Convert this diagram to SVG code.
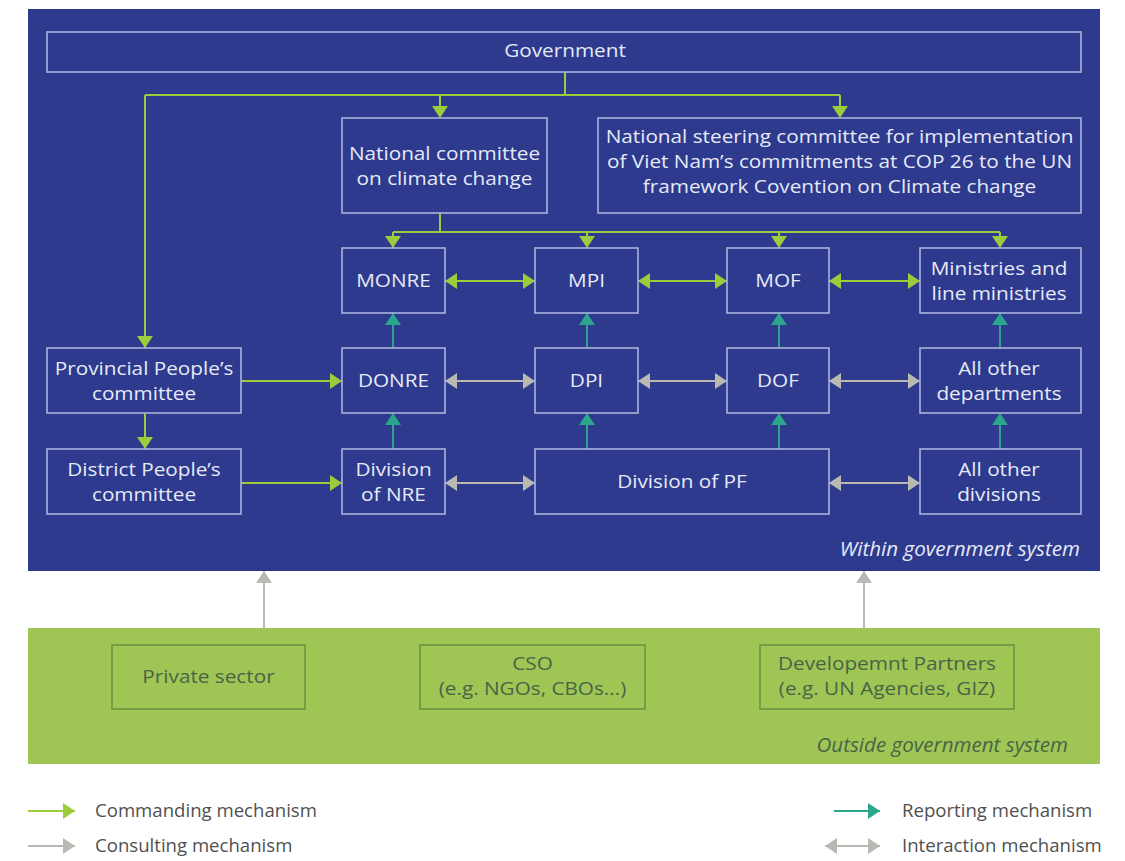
<svg xmlns="http://www.w3.org/2000/svg" width="1125" height="861" viewBox="0 0 1125 861">
<defs>
<style>
.box{fill:none;stroke:#aab3dc;stroke-width:1.6}
.gbox{fill:none;stroke:#6a9440;stroke-width:1.6}
.t{font-family:"Open Sans","Liberation Sans",sans-serif;font-size:18.2px;fill:#e6e9f7;text-anchor:middle}
.gt{font-family:"Open Sans","Liberation Sans",sans-serif;font-size:18.2px;fill:#4a6347;text-anchor:middle}
.lt{font-family:"Open Sans","Liberation Sans",sans-serif;font-size:18.6px;fill:#505050}
.it{font-family:"Open Sans","Liberation Sans",sans-serif;font-size:20.6px;font-style:italic;text-anchor:end}
.cmd{stroke:#9ccb3c;stroke-width:2;fill:none}
.rep{stroke:#2ba58c;stroke-width:2;fill:none}
.con{stroke:#b9b9b3;stroke-width:2;fill:none}
</style>
<marker id="aC" viewBox="0 0 12 16" refX="12" refY="8" markerWidth="12" markerHeight="16" markerUnits="userSpaceOnUse" orient="auto-start-reverse"><path d="M0,0 L12,8 L0,16 Z" fill="#9ccb3c"/></marker>
<marker id="aR" viewBox="0 0 12 16" refX="12" refY="8" markerWidth="12" markerHeight="16" markerUnits="userSpaceOnUse" orient="auto-start-reverse"><path d="M0,0 L12,8 L0,16 Z" fill="#2ba58c"/></marker>
<marker id="aG" viewBox="0 0 12 16" refX="12" refY="8" markerWidth="12" markerHeight="16" markerUnits="userSpaceOnUse" orient="auto-start-reverse"><path d="M0,0 L12,8 L0,16 Z" fill="#b9b9b3"/></marker>
</defs>
<rect width="1125" height="861" fill="#ffffff"/>
<rect x="28" y="9" width="1072" height="562" fill="#2d3a8d"/>
<rect x="28" y="628" width="1072" height="136" fill="#9fc655"/>

<g id="connectors">
<path class="cmd" d="M565,72 V95 M145,95 H840"/>
<line class="cmd" x1="440" y1="95" x2="440" y2="118" marker-end="url(#aC)"/>
<line class="cmd" x1="840" y1="95" x2="840" y2="118" marker-end="url(#aC)"/>
<line class="cmd" x1="145" y1="95" x2="145" y2="348" marker-end="url(#aC)"/>
<path class="cmd" d="M440,213 V232 M393,232 H1000"/>
<line class="cmd" x1="393" y1="232" x2="393" y2="248" marker-end="url(#aC)"/>
<line class="cmd" x1="587" y1="232" x2="587" y2="248" marker-end="url(#aC)"/>
<line class="cmd" x1="779" y1="232" x2="779" y2="248" marker-end="url(#aC)"/>
<line class="cmd" x1="1000" y1="232" x2="1000" y2="248" marker-end="url(#aC)"/>
<line class="cmd" x1="445" y1="281" x2="535" y2="281" marker-start="url(#aC)" marker-end="url(#aC)"/>
<line class="cmd" x1="638" y1="281" x2="727" y2="281" marker-start="url(#aC)" marker-end="url(#aC)"/>
<line class="cmd" x1="829" y1="281" x2="920" y2="281" marker-start="url(#aC)" marker-end="url(#aC)"/>
<line class="cmd" x1="241" y1="381" x2="342" y2="381" marker-end="url(#aC)"/>
<line class="cmd" x1="241" y1="483" x2="342" y2="483" marker-end="url(#aC)"/>
<line class="cmd" x1="145" y1="413" x2="145" y2="449" marker-end="url(#aC)"/>
<line class="rep" x1="393" y1="348" x2="393" y2="313" marker-end="url(#aR)"/>
<line class="rep" x1="587" y1="348" x2="587" y2="313" marker-end="url(#aR)"/>
<line class="rep" x1="779" y1="348" x2="779" y2="313" marker-end="url(#aR)"/>
<line class="rep" x1="1000" y1="348" x2="1000" y2="313" marker-end="url(#aR)"/>
<line class="rep" x1="393" y1="449" x2="393" y2="413" marker-end="url(#aR)"/>
<line class="rep" x1="587" y1="449" x2="587" y2="413" marker-end="url(#aR)"/>
<line class="rep" x1="779" y1="449" x2="779" y2="413" marker-end="url(#aR)"/>
<line class="rep" x1="1000" y1="449" x2="1000" y2="413" marker-end="url(#aR)"/>
<line class="con" x1="445" y1="381" x2="535" y2="381" marker-start="url(#aG)" marker-end="url(#aG)"/>
<line class="con" x1="638" y1="381" x2="727" y2="381" marker-start="url(#aG)" marker-end="url(#aG)"/>
<line class="con" x1="829" y1="381" x2="920" y2="381" marker-start="url(#aG)" marker-end="url(#aG)"/>
<line class="con" x1="445" y1="483" x2="535" y2="483" marker-start="url(#aG)" marker-end="url(#aG)"/>
<line class="con" x1="829" y1="483" x2="920" y2="483" marker-start="url(#aG)" marker-end="url(#aG)"/>
<line class="con" x1="264" y1="628" x2="264" y2="571" marker-end="url(#aG)"/>
<line class="con" x1="864" y1="628" x2="864" y2="571" marker-end="url(#aG)"/>
</g>

<g id="government"><rect class="box" x="47" y="32" width="1034" height="40"/><text class="t" transform="translate(565 57) scale(1.14 1)">Government</text></g>
<g id="ncc"><rect class="box" x="342" y="118" width="205" height="95"/><text class="t" transform="translate(444.5 160) scale(1.14 1)">National committee</text><text class="t" transform="translate(444.5 185) scale(1.14 1)">on climate change</text></g>
<g id="steering"><rect class="box" x="598" y="118" width="483" height="95"/><text class="t" transform="translate(839.5 143) scale(1.14 1)">National steering committee for implementation</text><text class="t" transform="translate(839.5 168) scale(1.14 1)">of Viet Nam’s commitments at COP 26 to the UN</text><text class="t" transform="translate(839.5 193) scale(1.14 1)">framework Covention on Climate change</text></g>
<g id="monre"><rect class="box" x="342" y="248" width="103" height="65"/><text class="t" transform="translate(393.5 287) scale(1.14 1)">MONRE</text></g>
<g id="mpi"><rect class="box" x="535" y="248" width="103" height="65"/><text class="t" transform="translate(586.5 287) scale(1.14 1)">MPI</text></g>
<g id="mof"><rect class="box" x="727" y="248" width="102" height="65"/><text class="t" transform="translate(778 287) scale(1.14 1)">MOF</text></g>
<g id="ministries"><rect class="box" x="920" y="248" width="161" height="65"/><text class="t" transform="translate(999 275) scale(1.14 1)">Ministries and</text><text class="t" transform="translate(999 300) scale(1.14 1)">line ministries</text></g>
<g id="provincial"><rect class="box" x="47" y="348" width="194" height="65"/><text class="t" transform="translate(144 375) scale(1.14 1)">Provincial People’s</text><text class="t" transform="translate(144 400) scale(1.14 1)">committee</text></g>
<g id="donre"><rect class="box" x="342" y="348" width="103" height="65"/><text class="t" transform="translate(393.5 387) scale(1.14 1)">DONRE</text></g>
<g id="dpi"><rect class="box" x="535" y="348" width="103" height="65"/><text class="t" transform="translate(586.5 387) scale(1.14 1)">DPI</text></g>
<g id="dof"><rect class="box" x="727" y="348" width="102" height="65"/><text class="t" transform="translate(778 387) scale(1.14 1)">DOF</text></g>
<g id="alldep"><rect class="box" x="920" y="348" width="161" height="65"/><text class="t" transform="translate(999 375) scale(1.14 1)">All other</text><text class="t" transform="translate(999 400) scale(1.14 1)">departments</text></g>
<g id="district"><rect class="box" x="47" y="449" width="194" height="65"/><text class="t" transform="translate(144 476) scale(1.14 1)">District People’s</text><text class="t" transform="translate(144 501) scale(1.14 1)">committee</text></g>
<g id="divnre"><rect class="box" x="342" y="449" width="103" height="65"/><text class="t" transform="translate(393.5 476) scale(1.14 1)">Division</text><text class="t" transform="translate(393.5 501) scale(1.14 1)">of NRE</text></g>
<g id="divpf"><rect class="box" x="535" y="449" width="294" height="65"/><text class="t" transform="translate(682 488) scale(1.14 1)">Division of PF</text></g>
<g id="alldiv"><rect class="box" x="920" y="449" width="161" height="65"/><text class="t" transform="translate(999 476) scale(1.14 1)">All other</text><text class="t" transform="translate(999 501) scale(1.14 1)">divisions</text></g>
<text class="it" x="1080" y="556" fill="#e6e9f7">Within government system</text>

<g id="private"><rect class="gbox" x="112" y="645" width="193" height="64"/><text class="gt" transform="translate(208.5 683) scale(1.14 1)">Private sector</text></g>
<g id="cso"><rect class="gbox" x="420" y="645" width="225" height="64"/><text class="gt" transform="translate(532.5 670) scale(1.14 1)">CSO</text><text class="gt" transform="translate(532.5 695) scale(1.14 1)">(e.g. NGOs, CBOs...)</text></g>
<g id="partners"><rect class="gbox" x="760" y="645" width="254" height="64"/><text class="gt" transform="translate(887 670) scale(1.14 1)">Developemnt Partners</text><text class="gt" transform="translate(887 695) scale(1.14 1)">(e.g. UN Agencies, GIZ)</text></g>
<text class="it" x="1068" y="752" fill="#4a6347">Outside government system</text>

<g id="legend">
<line class="cmd" x1="28" y1="811" x2="75" y2="811" marker-end="url(#aC)"/>
<text class="lt" x="95" y="817">Commanding mechanism</text>
<line class="con" x1="28" y1="846" x2="75" y2="846" marker-end="url(#aG)"/>
<text class="lt" x="95" y="852">Consulting mechanism</text>
<line class="rep" x1="834" y1="811" x2="880" y2="811" marker-end="url(#aR)"/>
<text class="lt" x="902" y="817">Reporting mechanism</text>
<line class="con" x1="825" y1="846" x2="880" y2="846" marker-start="url(#aG)" marker-end="url(#aG)"/>
<text class="lt" x="902" y="852">Interaction mechanism</text>
</g>
</svg>
